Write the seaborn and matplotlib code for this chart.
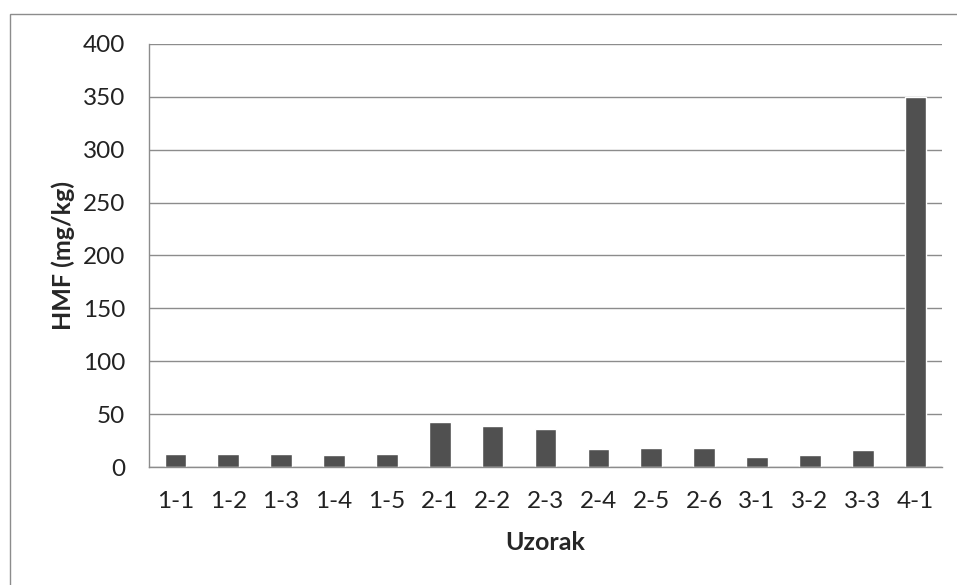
import matplotlib.pyplot as plt
import numpy as np
import seaborn as sns
from matplotlib.patches import Rectangle

samples = ["1-1", "1-2", "1-3", "1-4", "1-5", "2-1", "2-2", "2-3",
           "2-4", "2-5", "2-6", "3-1", "3-2", "3-3", "4-1"]
hmf = [12.6, 12.6, 12.6, 11.0, 12.6, 42.6, 39.0, 36.2,
       17.0, 18.3, 18.3, 9.5, 11.0, 15.8, 350.0]
y_ticks = [0, 50, 100, 150, 200, 250, 300, 350, 400]

sns.set_style("white")
plt.rcParams["font.family"] = ["Lato", "DejaVu Sans"]

fig = plt.figure(figsize=(9.57, 5.85), dpi=100)
ax = fig.add_axes([149 / 957, 1 - 467 / 585, (942 - 149) / 957, (467 - 44) / 585])

sns.barplot(x=samples, y=hmf, color="#505050", saturation=1, width=0.41, ax=ax)

ax.set_ylim(0, 400)
ax.set_xlim(-0.5, len(samples) - 0.5)
ax.set_yticks(y_ticks)
ax.yaxis.grid(True, color="#8c8c8c", linewidth=1)
ax.set_axisbelow(True)

for side in ["top", "right"]:
    ax.spines[side].set_visible(False)
for side in ["left", "bottom"]:
    ax.spines[side].set_color("#8c8c8c")
    ax.spines[side].set_linewidth(1)

ax.tick_params(axis="y", length=6, color="#8c8c8c", labelsize=17.5, pad=11, labelcolor="#222222")
ax.tick_params(axis="x", which="major", length=0, labelsize=17.5, pad=17, labelcolor="#222222")
ax.set_xticks(np.arange(-0.5, len(samples)), minor=True)
ax.tick_params(axis="x", which="minor", length=6, color="#8c8c8c")

ax.set_ylabel("HMF (mg/kg)", fontsize=18, fontweight="bold", labelpad=6)
ax.set_xlabel("Uzorak", fontsize=18, fontweight="bold", labelpad=14)

# outer chart frame
fig.patches.append(Rectangle((10 / 957, -0.1), 1.2, 1 - 14 / 585 + 0.1,
                             transform=fig.transFigure, fill=False,
                             edgecolor="#8c8c8c", linewidth=1))

fig.savefig("out.png", dpi=100)
